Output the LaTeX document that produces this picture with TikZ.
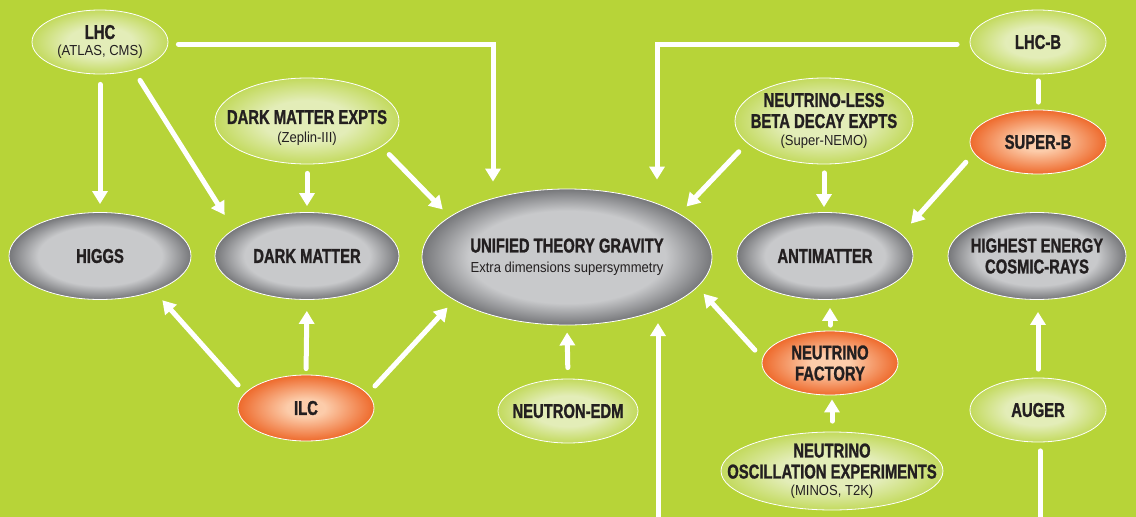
\documentclass[tikz,border=0pt]{standalone}
\usepackage{fontspec}
\setmainfont{Liberation Sans}
\newfontfamily\bfont[FakeStretch=0.74,BoldFeatures={FakeBold=1.2}]{Liberation Sans}
\newfontfamily\sfont[FakeStretch=0.9]{Liberation Sans}
\usetikzlibrary{arrows.meta,shapes.geometric}
\definecolor{bg}{HTML}{B7D438}
\definecolor{gin}{HTML}{E3EDB8}
\definecolor{gout}{HTML}{C3DA5E}
\definecolor{grin}{HTML}{C8C9CB}
\definecolor{grout}{HTML}{76777A}
\definecolor{oin}{HTML}{FCCCAA}
\definecolor{oout}{HTML}{EE6A2C}
\definecolor{txt}{HTML}{231F20}
\pgfdeclareradialshading{gball}{\pgfpoint{0bp}{0bp}}{color(0bp)=(gin); color(12bp)=(gin); color(25bp)=(gout); color(50bp)=(gout)}
\pgfdeclareradialshading{grball}{\pgfpoint{0bp}{0bp}}{color(0bp)=(grin); color(17bp)=(grin); color(25bp)=(grout); color(50bp)=(grout)}
\pgfdeclareradialshading{oball}{\pgfpoint{0bp}{0bp}}{color(0bp)=(oin); color(7bp)=(oin); color(25bp)=(oout); color(50bp)=(oout)}
\newcommand{\tl}{\bfont\bfseries\fontsize{20}{21}\selectfont}
\newcommand{\stl}{\sfont\mdseries\fontsize{14.5}{17}\selectfont}
\tikzset{
  bub/.style={ellipse, draw=white, line width=0.8pt, inner xsep=-45pt, inner ysep=-22pt,
    align=center, text=txt, font=\tl},
  gnode/.style={bub, shading=gball},
  grnode/.style={bub, shading=grball},
  onode/.style={bub, shading=oball},
  conn/.style={draw=white, line width=5pt, line cap=round,
    -{Triangle[width=15pt,length=13pt]}},
  plain/.style={draw=white, line width=5pt, line cap=round}
}
\begin{document}
\begin{tikzpicture}[x=1pt,y=-1pt]
\useasboundingbox (0,0) rectangle (1136,517);
\fill[bg] (0,0) rectangle (1136,517);

% nodes
\node[gnode, minimum width=136pt, minimum height=64pt] (lhc) at (100,42) {LHC\\[-4pt]{\stl (ATLAS, CMS)}};
\node[gnode, minimum width=184pt, minimum height=86pt] (dme) at (307,121) {\rule{0pt}{28pt}DARK MATTER EXPTS\\[-2pt]{\stl (Zeplin-III)}};
\node[gnode, minimum width=178pt, minimum height=86pt] (nl) at (824,121) {NEUTRINO-LESS\\BETA DECAY EXPTS\\[-3pt]{\stl (Super-NEMO)}};
\node[gnode, minimum width=136pt, minimum height=64pt] (lhcb) at (1038,42) {LHC-B};
\node[onode, minimum width=136pt, minimum height=64pt] (superb) at (1038,142) {SUPER-B};
\node[grnode, minimum width=182pt, minimum height=87pt] (higgs) at (100,256) {HIGGS};
\node[grnode, minimum width=184pt, minimum height=87pt] (dm) at (307,256) {DARK MATTER};
\node[grnode, minimum width=290pt, minimum height=136pt] (uni) at (567,257) {UNIFIED THEORY GRAVITY\\[-1pt]{\stl Extra dimensions supersymmetry}};
\node[grnode, minimum width=176pt, minimum height=87pt] (anti) at (825,256) {ANTIMATTER};
\node[grnode, minimum width=178pt, minimum height=87pt] (high) at (1037,256) {HIGHEST ENERGY\\COSMIC-RAYS};
\node[onode, minimum width=136pt, minimum height=66pt] (ilc) at (306,408) {ILC};
\node[gnode, minimum width=140pt, minimum height=64pt] (edm) at (568,411) {NEUTRON-EDM};
\node[onode, minimum width=136pt, minimum height=64pt] (nf) at (830,363) {NEUTRINO\\FACTORY};
\node[gnode, minimum width=222pt, minimum height=78pt] (nosc) at (832,471) {NEUTRINO\\OSCILLATION EXPERIMENTS\\[-4pt]{\stl (MINOS, T2K)}};
\node[gnode, minimum width=136pt, minimum height=64pt] (auger) at (1038,410) {AUGER};

\coordinate (bot1) at (658,522);
\coordinate (bot2) at (1040,522);

% connectors
\draw[conn, shorten <=10pt, shorten >=8pt] (lhc.south) -- (higgs.north);
\draw[conn, shorten <=12pt, shorten >=17pt] (lhc.-40) -- (dm.160);
\draw[conn, shorten <=10pt, shorten >=7pt] ([yshift=-2pt]lhc.east) -| ([xshift=-74pt]uni.north);
\draw[conn, shorten <=9pt, shorten >=6pt] (dme.south) -- (dm.north);
\draw[conn, shorten <=11pt, shorten >=10pt] (dme.-19) -- (uni.161);
\draw[conn, shorten <=10.5pt, shorten >=12pt] (ilc.166) -- (higgs.-33.5);
\draw[conn, shorten <=6pt, shorten >=11pt] (ilc.north) -- (dm.south);
\draw[conn, shorten <=10.5pt, shorten >=10pt] (ilc.13) -- (uni.-159);
\draw[conn, shorten <=11pt, shorten >=7pt] (edm.north) -- (uni.south);
\draw[conn, shorten >=13pt] (bot1) -- (bot1 |- uni.-30);
\draw[conn, shorten <=12pt, shorten >=10pt] (nl.196.7) -- (uni.21);
\draw[conn, shorten <=8.5pt, shorten >=5pt] (nl.south) -- (nl.south |- anti.north);
\draw[conn, shorten <=12pt, shorten >=14pt] (superb.190.5) -- (anti.16.4);
\draw[conn, shorten <=11pt, shorten >=9pt] (nf.176) -- (uni.-13);
\draw[conn, shorten <=5.5pt, shorten >=8pt] (nf.north) -- (nf.north |- anti.south);
\draw[conn, shorten <=10.5pt, shorten >=4pt] (nosc.north) -- (nosc.north |- nf.south);
\draw[conn, shorten <=8.5pt, shorten >=12pt] (auger.north) -- (auger.north |- high.south);
\draw[plain, shorten >=8.5pt] (bot2) -- (bot2 |- auger.south);
\draw[plain, shorten <=6.5pt, shorten >=7.5pt] (lhcb.south) -- (superb.north);
\draw[conn, shorten <=12.5pt, shorten >=9pt] ([yshift=-2pt]lhcb.west) -| ([xshift=90pt]uni.north);
\end{tikzpicture}
\end{document}
